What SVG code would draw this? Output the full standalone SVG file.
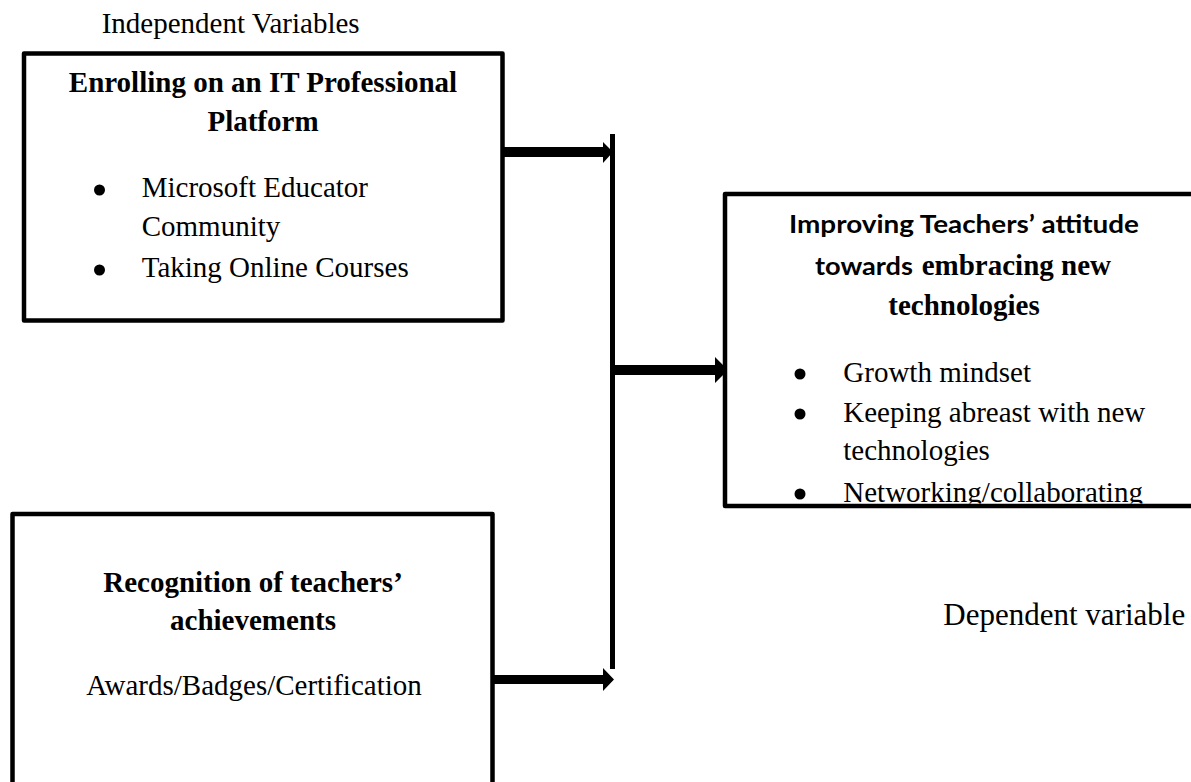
<svg xmlns="http://www.w3.org/2000/svg" width="1191" height="782" viewBox="0 0 1191 782">
  <style>
    .box { fill: #fff; stroke: #000; stroke-width: 4.5; stroke-linejoin: round; }
    .serif { font-family: "Liberation Serif", "Times New Roman", serif; font-size: 29px; fill: #000; }
    .bold { font-weight: bold; }
    .sansb { font-family: Lato, "Liberation Sans", sans-serif; font-weight: bold; font-size: 25px; fill: #000; }
    .mid { text-anchor: middle; }
    .arrow { fill: #000; }
    .dot { fill: #000; }
  </style>
  <defs>
    <clipPath id="outcomeClip">
      <rect x="727" y="196" width="464" height="307.5"/>
    </clipPath>
  </defs>

  <rect width="1191" height="782" fill="#fff"/>

  <!-- side labels -->
  <text class="serif" x="101.7" y="33.3">Independent Variables</text>
  <text class="serif" x="943.3" y="625" style="font-size:31px">Dependent variable</text>

  <!-- connectors: collecting bar and thick arrows -->
  <g id="connectors">
    <rect class="arrow" x="610" y="134" width="5" height="535"/>
    <path class="arrow" d="M502,147 H603 V142 L613,152 L603,163 V157 H502 Z"/>
    <path class="arrow" d="M612,365 H715 V357 L728,370 L715,383 V375 H612 Z"/>
    <path class="arrow" d="M492,675 H603 V668 L614,679.5 L603,691 V684 H492 Z"/>
  </g>

  <!-- independent variable 1 -->
  <g id="node-platform">
    <rect class="box" x="24" y="53.5" width="478.5" height="267"/>
    <text class="serif bold mid" x="263" y="92">Enrolling on an IT Professional</text>
    <text class="serif bold mid" x="263" y="131">Platform</text>
    <circle class="dot" cx="99.5" cy="190" r="5.5"/>
    <text class="serif" x="141.7" y="197">Microsoft Educator</text>
    <text class="serif" x="141.7" y="236">Community</text>
    <circle class="dot" cx="99.5" cy="270" r="5.5"/>
    <text class="serif" x="141.7" y="277">Taking Online Courses</text>
  </g>

  <!-- independent variable 2 -->
  <g id="node-recognition">
    <rect class="box" x="12.5" y="514" width="480" height="300"/>
    <text class="serif bold mid" x="253" y="592">Recognition of teachers’</text>
    <text class="serif bold mid" x="253" y="630">achievements</text>
    <text class="serif mid" x="254" y="695">Awards/Badges/Certification</text>
  </g>

  <!-- dependent variable -->
  <g id="node-attitude">
    <rect class="box" x="725" y="194" width="500" height="312"/>
    <g clip-path="url(#outcomeClip)">
      <text class="sansb mid" x="964" y="233" textLength="350" lengthAdjust="spacingAndGlyphs">Improving Teachers’ attitude</text>
      <text class="sansb" x="815" y="275" textLength="98" lengthAdjust="spacingAndGlyphs">towards</text>
      <text class="serif bold" x="921.7" y="275">embracing new</text>
      <text class="serif bold mid" x="964" y="315">technologies</text>
      <circle class="dot" cx="800" cy="374" r="5.5"/>
      <text class="serif" x="843.3" y="381.7">Growth mindset</text>
      <circle class="dot" cx="800" cy="414" r="5.5"/>
      <text class="serif" x="843.3" y="421.7">Keeping abreast with new</text>
      <text class="serif" x="843.3" y="460">technologies</text>
      <circle class="dot" cx="800" cy="494" r="5.5"/>
      <text class="serif" x="843.3" y="501.5">Networking/collaborating</text>
    </g>
  </g>
</svg>
